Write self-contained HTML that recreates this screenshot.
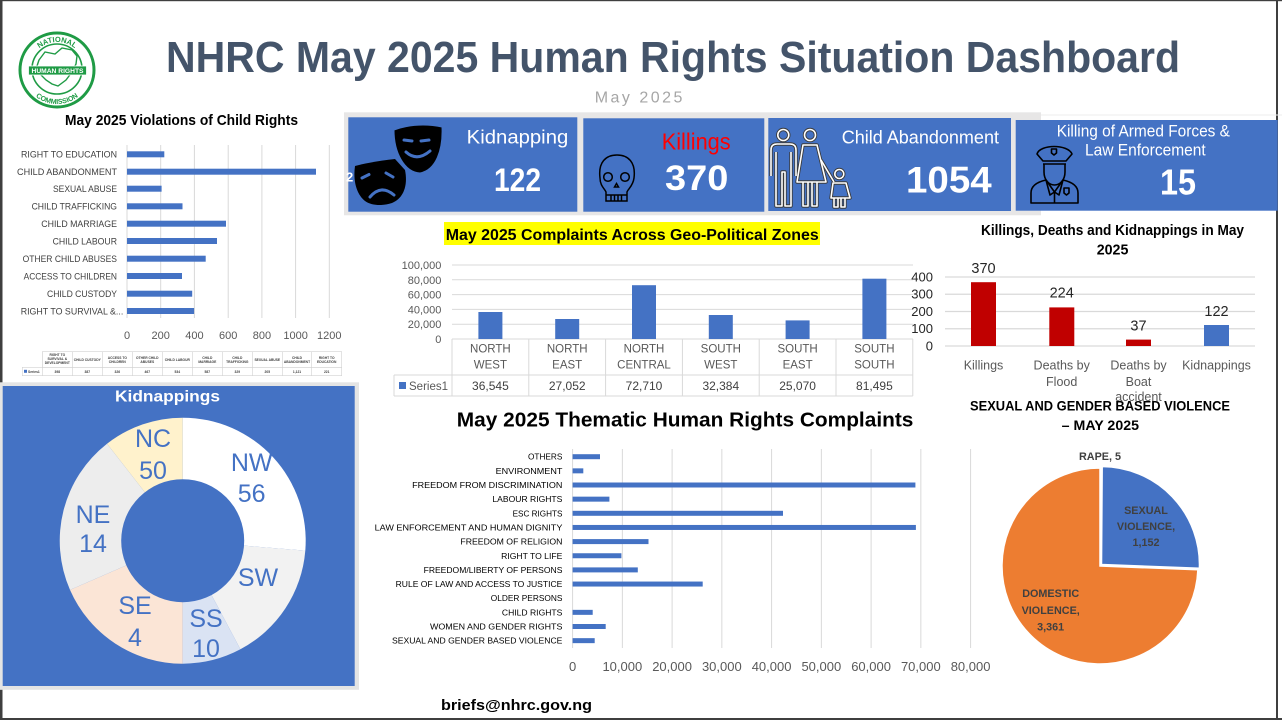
<!DOCTYPE html>
<html>
<head>
<meta charset="utf-8">
<style>
html,body{margin:0;padding:0;background:#fff;}
svg{display:block;}
text{font-family:"Liberation Sans", sans-serif;}
</style>
</head>
<body>
<svg width="1282" height="720" viewBox="0 0 1282 720" xmlns="http://www.w3.org/2000/svg">
<rect x="0" y="0" width="1282" height="720" fill="#ffffff"/>
<!-- page border -->
<rect x="0" y="0" width="2.5" height="720" fill="#3f3f3f"/>
<rect x="0" y="0" width="1282" height="1.2" fill="#3f3f3f"/>
<rect x="1276" y="0" width="2" height="720" fill="#3f3f3f"/>
<rect x="0" y="718" width="1282" height="2" fill="#3f3f3f"/>

<!-- LOGO -->
<defs>
<path id="arcTop" d="M29,70 A28,28 0 0 1 85,70"/>
<path id="arcBot" d="M23,70 A34,34 0 0 0 91,70"/>
</defs>
<circle cx="57" cy="70" r="37" fill="#ffffff" stroke="#1f9b45" stroke-width="3"/>
<circle cx="57" cy="69" r="25" fill="#ffffff" stroke="#1f9b45" stroke-width="1.6"/>
<polygon points="39,60 45,52 55,54 62,48 72,50 77,56 76,64 72,72 66,80 58,86 52,84 46,80 40,74 37,66" fill="#ffffff" stroke="#1f9b45" stroke-width="1.4"/>
<text font-size="7.5" font-weight="bold" fill="#1f9b45" text-anchor="middle"><textPath href="#arcTop" startOffset="50%">NATIONAL</textPath></text>
<text font-size="7" font-weight="bold" fill="#1f9b45" text-anchor="middle"><textPath href="#arcBot" startOffset="50%">COMMISSION</textPath></text>
<rect x="28.5" y="66" width="58" height="9" fill="#1f9b45" stroke="#ffffff" stroke-width="0.8"/>
<text x="57.5" y="73" font-size="6.5" font-weight="bold" fill="#ffffff" text-anchor="middle" textLength="52" lengthAdjust="spacingAndGlyphs">HUMAN RIGHTS</text>

<!-- TITLE -->
<text x="166" y="72" font-size="44" font-weight="bold" fill="#44546a" textLength="1014" lengthAdjust="spacingAndGlyphs">NHRC May 2025 Human Rights Situation Dashboard</text>
<text x="594.7" y="102.5" font-size="16" fill="#a6a6a6" textLength="87.7" lengthAdjust="spacing">May 2025</text>

<!-- CHILD RIGHTS CHART -->
<text x="65" y="125" font-size="15" font-weight="bold" fill="#000" textLength="233" lengthAdjust="spacingAndGlyphs">May 2025 Violations of Child Rights</text>
<g stroke="#d9d9d9" stroke-width="1">
<line x1="127" y1="145" x2="127" y2="318"/>
<line x1="160.7" y1="145" x2="160.7" y2="318"/>
<line x1="194.4" y1="145" x2="194.4" y2="318"/>
<line x1="228.2" y1="145" x2="228.2" y2="318"/>
<line x1="261.9" y1="145" x2="261.9" y2="318"/>
<line x1="295.6" y1="145" x2="295.6" y2="318"/>
<line x1="329.3" y1="145" x2="329.3" y2="318"/>
</g>
<g fill="#4472c4">
<rect x="127" y="151.3" width="37.3" height="6"/>
<rect x="127" y="168.7" width="189" height="6"/>
<rect x="127" y="185.7" width="34.6" height="6"/>
<rect x="127" y="203.3" width="55.5" height="6"/>
<rect x="127" y="220.7" width="99" height="6"/>
<rect x="127" y="238" width="90" height="6"/>
<rect x="127" y="255.7" width="78.7" height="6"/>
<rect x="127" y="273" width="55" height="6"/>
<rect x="127" y="290.7" width="65.2" height="6"/>
<rect x="127" y="308" width="67.1" height="6"/>
</g>
<g font-size="9.5" fill="#404040" text-anchor="end">
<text x="117" y="157.7" textLength="96" lengthAdjust="spacingAndGlyphs">RIGHT TO EDUCATION</text>
<text x="117" y="175.1" textLength="100" lengthAdjust="spacingAndGlyphs">CHILD ABANDONMENT</text>
<text x="117" y="192.1" textLength="64" lengthAdjust="spacingAndGlyphs">SEXUAL ABUSE</text>
<text x="117" y="209.7" textLength="85.4" lengthAdjust="spacingAndGlyphs">CHILD TRAFFICKING</text>
<text x="117" y="227.1" textLength="75.7" lengthAdjust="spacingAndGlyphs">CHILD MARRIAGE</text>
<text x="117" y="244.4" textLength="64.4" lengthAdjust="spacingAndGlyphs">CHILD LABOUR</text>
<text x="117" y="262.1" textLength="94.4" lengthAdjust="spacingAndGlyphs">OTHER CHILD ABUSES</text>
<text x="117" y="279.4" textLength="93.4" lengthAdjust="spacingAndGlyphs">ACCESS TO CHILDREN</text>
<text x="117" y="297.1" textLength="70" lengthAdjust="spacingAndGlyphs">CHILD CUSTODY</text>
<text x="123.3" y="314.4" textLength="102.6" lengthAdjust="spacingAndGlyphs">RIGHT TO SURVIVAL &amp;...</text>
</g>
<g font-size="11" fill="#595959" text-anchor="middle">
<text x="127" y="339">0</text>
<text x="160.7" y="339">200</text>
<text x="194.4" y="339">400</text>
<text x="228.2" y="339">600</text>
<text x="261.9" y="339">800</text>
<text x="295.6" y="339">1000</text>
<text x="329.3" y="339">1200</text>
</g>
<!-- tiny data table -->
<g stroke="#d0d0d0" stroke-width="0.6" fill="none">
<rect x="42.3" y="351.7" width="299.4" height="15.6"/>
<rect x="22.3" y="367.3" width="319.4" height="8.4"/>
<line x1="72.3" y1="351.7" x2="72.3" y2="375.7"/>
<line x1="102.3" y1="351.7" x2="102.3" y2="375.7"/>
<line x1="132.3" y1="351.7" x2="132.3" y2="375.7"/>
<line x1="162.3" y1="351.7" x2="162.3" y2="375.7"/>
<line x1="192.3" y1="351.7" x2="192.3" y2="375.7"/>
<line x1="222.3" y1="351.7" x2="222.3" y2="375.7"/>
<line x1="252.3" y1="351.7" x2="252.3" y2="375.7"/>
<line x1="282.3" y1="351.7" x2="282.3" y2="375.7"/>
<line x1="311.7" y1="351.7" x2="311.7" y2="375.7"/>
<line x1="42.3" y1="351.7" x2="42.3" y2="375.7"/>
</g>
<g font-size="3.3" font-weight="bold" fill="#404040" text-anchor="middle">
<text x="57.3" y="356">RIGHT TO</text><text x="57.3" y="360">SURVIVAL &amp;</text><text x="57.3" y="364">DEVELOPMENT</text>
<text x="87.3" y="361">CHILD CUSTODY</text>
<text x="117.3" y="359">ACCESS TO</text><text x="117.3" y="363">CHILDREN</text>
<text x="147.3" y="359">OTHER CHILD</text><text x="147.3" y="363">ABUSES</text>
<text x="177.3" y="361">CHILD LABOUR</text>
<text x="207.3" y="359">CHILD</text><text x="207.3" y="363">MARRIAGE</text>
<text x="237.3" y="359">CHILD</text><text x="237.3" y="363">TRAFFICKING</text>
<text x="267.3" y="361">SEXUAL ABUSE</text>
<text x="297" y="359">CHILD</text><text x="297" y="363">ABANDONMENT</text>
<text x="326.7" y="359">RIGHT TO</text><text x="326.7" y="363">EDUCATION</text>
<text x="57.3" y="372.8">398</text><text x="87.3" y="372.8">387</text><text x="117.3" y="372.8">326</text>
<text x="147.3" y="372.8">467</text><text x="177.3" y="372.8">534</text><text x="207.3" y="372.8">587</text>
<text x="237.3" y="372.8">329</text><text x="267.3" y="372.8">205</text><text x="297" y="372.8">1,121</text>
<text x="326.7" y="372.8">221</text>
</g>
<rect x="24" y="369.8" width="3" height="3" fill="#4472c4"/>
<text x="28" y="372.8" font-size="3.3" font-weight="bold" fill="#404040">Series1</text>

<!-- KIDNAPPINGS DONUT PANEL -->
<rect x="0" y="382.3" width="359" height="307.5" fill="#e4e4e4"/>
<rect x="2.7" y="386" width="352" height="300" fill="#4472c4"/>
<text x="167.5" y="401.7" font-size="15.5" font-weight="bold" fill="#ffffff" text-anchor="middle" textLength="105" lengthAdjust="spacingAndGlyphs">Kidnappings</text>
<path d="M182.7,540.7 L182.7,417.7 A123,123 0 0 1 305.3,550.6 Z" fill="#ffffff"/>
<path d="M182.7,540.7 L305.3,550.6 A123,123 0 0 1 240.4,649.3 Z" fill="#f2f2f2"/>
<path d="M182.7,540.7 L240.4,649.3 A123,123 0 0 1 182.7,663.7 Z" fill="#dae3f3"/>
<path d="M182.7,540.7 L182.7,663.7 A123,123 0 0 1 70.0,589.9 Z" fill="#fbe5d6"/>
<path d="M182.7,540.7 L70.0,589.9 A123,123 0 0 1 107.0,443.8 Z" fill="#ededed"/>
<path d="M182.7,540.7 L107.0,443.8 A123,123 0 0 1 182.7,417.7 Z" fill="#fff2cc"/>
<circle cx="182.7" cy="540.7" r="61.5" fill="#4472c4"/>
<g font-size="25" fill="#4472c4" text-anchor="middle">
<text x="153" y="447">NC</text><text x="153" y="479">50</text>
<text x="251.7" y="471">NW</text><text x="251.7" y="502">56</text>
<text x="93" y="523">NE</text><text x="93" y="552">14</text>
<text x="258" y="586">SW</text>
<text x="135" y="614">SE</text><text x="135" y="646">4</text>
<text x="206" y="627">SS</text><text x="206" y="657">10</text>
</g>

<!-- KPI CARDS -->
<rect x="344" y="112.3" width="697" height="103" fill="#e7e6e6"/>
<line x1="1041" y1="115" x2="1282" y2="115" stroke="#eeeeee" stroke-width="1"/>
<rect x="348.3" y="117.3" width="229" height="94.4" fill="#4472c4"/>
<rect x="583.3" y="118.3" width="181" height="93.4" fill="#4472c4"/>
<rect x="768.3" y="118" width="242.7" height="93" fill="#4472c4"/>
<rect x="1015.7" y="120" width="262" height="90.7" fill="#4472c4"/>

<!-- masks icon -->
<path d="M355,166 C370,162 385,160 395,159 L405,170 C408,185 404,198 392,203 C383,206 372,206 365,201 C356,194 353,180 355,166 Z" fill="#000"/>
<path d="M394,130 C410,124 428,124 442,127 C443,150 436,170 420,173 C404,172 394,152 394,130 Z" fill="#000" stroke="#4472c4" stroke-width="1"/>
<g stroke="#4472c4" stroke-width="3" stroke-linecap="round" fill="none">
<line x1="404" y1="140" x2="412" y2="141"/>
<line x1="421" y1="141" x2="429" y2="140"/>
<path d="M406,152 Q417,162 430,151"/>
<line x1="362" y1="178" x2="369" y2="174.5"/>
<line x1="386" y1="173" x2="393" y2="177"/>
<path d="M370,197 Q381,184 394,195"/>
</g>
<text x="346" y="181.5" font-size="13" font-weight="bold" fill="#ffffff">2</text>
<text x="466.7" y="143.5" font-size="19" fill="#ffffff" textLength="101.6" lengthAdjust="spacingAndGlyphs">Kidnapping</text>
<text x="494" y="191" font-size="32" font-weight="bold" fill="#ffffff" textLength="47" lengthAdjust="spacingAndGlyphs">122</text>

<!-- skull icon -->
<g stroke="#000" stroke-width="1.5" fill="none">
<path d="M600,178 C598,162 606,155 617,155 C628,155 636,162 634,178 C633,186 628,189 627,192 L627,201 L606,201 L606,192 C605,189 600,186 600,178 Z"/>
<circle cx="608" cy="177" r="4.3"/>
<circle cx="625" cy="177" r="4.3"/>
<path d="M614.5,187 L616.5,183.5 L618.5,187 Z"/>
<line x1="606" y1="195" x2="627" y2="195"/>
<line x1="611" y1="195" x2="611" y2="201"/>
<line x1="614.5" y1="195" x2="614.5" y2="201"/>
<line x1="618" y1="195" x2="618" y2="201"/>
<line x1="621.5" y1="195" x2="621.5" y2="201"/>
</g>
<text x="661.7" y="149.5" font-size="23.5" fill="#ff0000" textLength="69" lengthAdjust="spacingAndGlyphs">Killings</text>
<text x="665" y="190" font-size="35" font-weight="bold" fill="#ffffff" textLength="63.3" lengthAdjust="spacingAndGlyphs">370</text>

<!-- family icon -->
<g fill="none" stroke-linejoin="round">
<g stroke="#3a3a3a" stroke-width="3.4">
<circle cx="783.3" cy="135" r="5.5"/>
<path d="M771,176 L771,150 Q771,144 777,144 L790,144 Q796,144 796,150 L796,176"/>
<path d="M776,152 L776,206 L782,206 L782,172 L785,172 L785,206 L791,206 L791,152"/>
<circle cx="810" cy="135" r="5.5"/>
<path d="M803,145 L817,145 L826,182 L797,182 Z"/>
<path d="M803,182 L803,206 L808,206 L808,182 M812,182 L812,206 L817,206 L817,182"/>
<path d="M821,160 L834,182"/>
<circle cx="839.3" cy="174" r="4.5"/>
<path d="M833,183 L846,183 L850,198 L831,198 Z"/>
<path d="M834,198 L834,207 L838,207 L838,198 M841,198 L841,207 L845,207 L845,198"/>
</g>
<g stroke="#ffffff" stroke-width="1.6">
<circle cx="783.3" cy="135" r="5.5"/>
<path d="M771,176 L771,150 Q771,144 777,144 L790,144 Q796,144 796,150 L796,176"/>
<path d="M776,152 L776,206 L782,206 L782,172 L785,172 L785,206 L791,206 L791,152"/>
<circle cx="810" cy="135" r="5.5"/>
<path d="M803,145 L817,145 L826,182 L797,182 Z"/>
<path d="M803,182 L803,206 L808,206 L808,182 M812,182 L812,206 L817,206 L817,182"/>
<path d="M821,160 L834,182"/>
<circle cx="839.3" cy="174" r="4.5"/>
<path d="M833,183 L846,183 L850,198 L831,198 Z"/>
<path d="M834,198 L834,207 L838,207 L838,198 M841,198 L841,207 L845,207 L845,198"/>
</g>
</g>
<text x="841.7" y="143.3" font-size="18.6" fill="#ffffff" textLength="157.3" lengthAdjust="spacingAndGlyphs">Child Abandonment</text>
<text x="906" y="192.3" font-size="37" font-weight="bold" fill="#ffffff" textLength="85.7" lengthAdjust="spacingAndGlyphs">1054</text>

<!-- police icon -->
<g stroke="#000" stroke-width="1.6" fill="none" stroke-linejoin="round">
<path d="M1037,154 C1040,144 1068,144 1072,154 L1066,161 L1043,161 Z"/>
<line x1="1043" y1="164" x2="1066" y2="164"/>
<path d="M1051.5,149 L1056.5,149 L1056.5,153 L1054,155 L1051.5,153 Z"/>
<path d="M1044,164 L1044,172 C1044,180 1049,185 1054.5,185 C1060,185 1065,180 1065,172 L1065,164"/>
<path d="M1031,203 L1031,193 C1031,186 1037,182 1046,180 L1054.5,192 L1063,180 C1072,182 1078,186 1078,193 L1078,203 Z"/>
<path d="M1046,180 L1050,195 L1054.5,192 L1059,195 L1063,180"/>
<line x1="1054.5" y1="192" x2="1054.5" y2="203"/>
<path d="M1064,188 L1069,188 L1069,193 L1066.5,195 L1064,193 Z"/>
</g>
<text x="1056.7" y="136.7" font-size="16.3" fill="#ffffff" textLength="173.3" lengthAdjust="spacingAndGlyphs">Killing of Armed Forces &amp;</text>
<text x="1085" y="155.7" font-size="16.3" fill="#ffffff" textLength="120.7" lengthAdjust="spacingAndGlyphs">Law Enforcement</text>
<text x="1160" y="194.3" font-size="36" font-weight="bold" fill="#ffffff" textLength="36" lengthAdjust="spacingAndGlyphs">15</text>

<!-- GEO-POLITICAL CHART -->
<rect x="444" y="222" width="376" height="23" fill="#ffff00"/>
<text x="445.7" y="240" font-size="16" font-weight="bold" fill="#000" textLength="373" lengthAdjust="spacingAndGlyphs">May 2025 Complaints Across Geo-Political Zones</text>
<g stroke="#d9d9d9" stroke-width="1">
<line x1="452" y1="265" x2="913" y2="265"/>
<line x1="452" y1="279.8" x2="913" y2="279.8"/>
<line x1="452" y1="294.6" x2="913" y2="294.6"/>
<line x1="452" y1="309.4" x2="913" y2="309.4"/>
<line x1="452" y1="324.2" x2="913" y2="324.2"/>
<line x1="452" y1="339" x2="913" y2="339"/>
</g>
<g fill="#4472c4">
<rect x="478.4" y="312" width="24" height="27"/>
<rect x="555.2" y="319" width="24" height="20"/>
<rect x="632" y="285.2" width="24" height="53.8"/>
<rect x="708.8" y="315" width="24" height="24"/>
<rect x="785.6" y="320.4" width="24" height="18.6"/>
<rect x="862.4" y="278.7" width="24" height="60.3"/>
</g>
<g font-size="11" fill="#595959" text-anchor="end">
<text x="441.4" y="269">100,000</text>
<text x="441.4" y="283.8">80,000</text>
<text x="441.4" y="298.6">60,000</text>
<text x="441.4" y="313.4">40,000</text>
<text x="441.4" y="328.2">20,000</text>
<text x="441.4" y="343">0</text>
</g>
<g stroke="#d9d9d9" stroke-width="1" fill="none">
<line x1="452" y1="339" x2="452" y2="396"/>
<line x1="528.8" y1="339" x2="528.8" y2="396"/>
<line x1="605.6" y1="339" x2="605.6" y2="396"/>
<line x1="682.4" y1="339" x2="682.4" y2="396"/>
<line x1="759.2" y1="339" x2="759.2" y2="396"/>
<line x1="836" y1="339" x2="836" y2="396"/>
<line x1="912.8" y1="339" x2="912.8" y2="396"/>
<line x1="394" y1="375" x2="912.8" y2="375"/>
<line x1="394" y1="396" x2="912.8" y2="396"/>
<line x1="394" y1="375" x2="394" y2="396"/>
</g>
<g font-size="11.5" fill="#595959" text-anchor="middle">
<text x="490.4" y="352.5">NORTH</text><text x="490.4" y="368.5">WEST</text>
<text x="567.2" y="352.5">NORTH</text><text x="567.2" y="368.5">EAST</text>
<text x="644" y="352.5">NORTH</text><text x="644" y="368.5">CENTRAL</text>
<text x="720.8" y="352.5">SOUTH</text><text x="720.8" y="368.5">WEST</text>
<text x="797.6" y="352.5">SOUTH</text><text x="797.6" y="368.5">EAST</text>
<text x="874.4" y="352.5">SOUTH</text><text x="874.4" y="368.5">SOUTH</text>
</g>
<g font-size="12" fill="#404040" text-anchor="middle">
<text x="490.4" y="390">36,545</text>
<text x="567.2" y="390">27,052</text>
<text x="644" y="390">72,710</text>
<text x="720.8" y="390">32,384</text>
<text x="797.6" y="390">25,070</text>
<text x="874.4" y="390">81,495</text>
</g>
<rect x="399" y="382" width="7" height="7" fill="#4472c4"/>
<text x="409" y="390" font-size="11.5" fill="#595959">Series1</text>

<!-- KILLINGS CHART -->
<text x="981" y="235" font-size="14.5" font-weight="bold" fill="#000" textLength="263" lengthAdjust="spacingAndGlyphs">Killings, Deaths and Kidnappings in May</text>
<text x="1096.7" y="254.3" font-size="14.5" font-weight="bold" fill="#000" textLength="31.7" lengthAdjust="spacingAndGlyphs">2025</text>
<g stroke="#d9d9d9" stroke-width="1.2">
<line x1="945" y1="277" x2="1255" y2="277"/>
<line x1="945" y1="294.25" x2="1255" y2="294.25"/>
<line x1="945" y1="311.5" x2="1255" y2="311.5"/>
<line x1="945" y1="328.75" x2="1255" y2="328.75"/>
<line x1="945" y1="346" x2="1255" y2="346"/>
</g>
<g font-size="13" fill="#262626" text-anchor="end">
<text x="933" y="281.5">400</text>
<text x="933" y="298.7">300</text>
<text x="933" y="316">200</text>
<text x="933" y="333.2">100</text>
<text x="933" y="350.5">0</text>
</g>
<rect x="971" y="282.2" width="25" height="63.8" fill="#c00000"/>
<rect x="1049.3" y="307.4" width="25" height="38.6" fill="#c00000"/>
<rect x="1126" y="339.6" width="25" height="6.4" fill="#c00000"/>
<rect x="1204" y="325" width="25" height="21" fill="#4472c4"/>
<g font-size="14.5" fill="#262626" text-anchor="middle">
<text x="983.5" y="273">370</text>
<text x="1061.7" y="297.3">224</text>
<text x="1138.5" y="330.3">37</text>
<text x="1216.5" y="316">122</text>
</g>
<g font-size="12.5" fill="#595959" text-anchor="middle">
<text x="983.5" y="369.5">Killings</text>
<text x="1061.7" y="369.5">Deaths by</text>
<text x="1061.7" y="386">Flood</text>
<text x="1138.5" y="369.5">Deaths by</text>
<text x="1138.5" y="386">Boat</text>
<text x="1138.5" y="401">accident</text>
<text x="1216.5" y="369.5">Kidnappings</text>
</g>

<!-- THEMATIC CHART -->
<text x="456.8" y="426.7" font-size="20.5" font-weight="bold" fill="#000" textLength="456.6" lengthAdjust="spacingAndGlyphs">May 2025 Thematic Human Rights Complaints</text>
<g stroke="#d9d9d9" stroke-width="1">
<line x1="572.6" y1="449" x2="572.6" y2="648"/>
<line x1="622.35" y1="449" x2="622.35" y2="648"/>
<line x1="672.1" y1="449" x2="672.1" y2="648"/>
<line x1="721.85" y1="449" x2="721.85" y2="648"/>
<line x1="771.6" y1="449" x2="771.6" y2="648"/>
<line x1="821.35" y1="449" x2="821.35" y2="648"/>
<line x1="871.1" y1="449" x2="871.1" y2="648"/>
<line x1="920.85" y1="449" x2="920.85" y2="648"/>
<line x1="970.6" y1="449" x2="970.6" y2="648"/>
</g>
<g fill="#4472c4">
<rect x="572.6" y="454.2" width="27.4" height="5"/>
<rect x="572.6" y="468.35" width="10.7" height="5"/>
<rect x="572.6" y="482.5" width="342.8" height="5"/>
<rect x="572.6" y="496.65" width="36.8" height="5"/>
<rect x="572.6" y="510.8" width="210.4" height="5"/>
<rect x="572.6" y="524.95" width="343.3" height="5"/>
<rect x="572.6" y="539.1" width="75.9" height="5"/>
<rect x="572.6" y="553.25" width="48.8" height="5"/>
<rect x="572.6" y="567.4" width="65.2" height="5"/>
<rect x="572.6" y="581.55" width="130.1" height="5"/>
<rect x="572.6" y="609.85" width="20.1" height="5"/>
<rect x="572.6" y="624" width="33.1" height="5"/>
<rect x="572.6" y="638.15" width="22.1" height="5"/>
</g>
<g font-size="8.5" fill="#000" text-anchor="end">
<text x="562.4" y="459.7" textLength="34.4" lengthAdjust="spacingAndGlyphs">OTHERS</text>
<text x="562.4" y="473.85" textLength="66.8" lengthAdjust="spacingAndGlyphs">ENVIRONMENT</text>
<text x="562.4" y="488" textLength="150.2" lengthAdjust="spacingAndGlyphs">FREEDOM FROM DISCRIMINATION</text>
<text x="562.4" y="502.15" textLength="70" lengthAdjust="spacingAndGlyphs">LABOUR RIGHTS</text>
<text x="562.4" y="516.3" textLength="49.8" lengthAdjust="spacingAndGlyphs">ESC RIGHTS</text>
<text x="562.4" y="530.45" textLength="187.8" lengthAdjust="spacingAndGlyphs">LAW ENFORCEMENT AND HUMAN DIGNITY</text>
<text x="562.4" y="544.6" textLength="102" lengthAdjust="spacingAndGlyphs">FREEDOM OF RELIGION</text>
<text x="562.4" y="558.75" textLength="61.3" lengthAdjust="spacingAndGlyphs">RIGHT TO LIFE</text>
<text x="562.4" y="572.9" textLength="138.8" lengthAdjust="spacingAndGlyphs">FREEDOM/LIBERTY OF PERSONS</text>
<text x="562.4" y="587.05" textLength="166.8" lengthAdjust="spacingAndGlyphs">RULE OF LAW AND ACCESS TO JUSTICE</text>
<text x="562.4" y="601.2" textLength="71.6" lengthAdjust="spacingAndGlyphs">OLDER PERSONS</text>
<text x="562.4" y="615.35" textLength="60.5" lengthAdjust="spacingAndGlyphs">CHILD RIGHTS</text>
<text x="562.4" y="629.5" textLength="132.4" lengthAdjust="spacingAndGlyphs">WOMEN AND GENDER RIGHTS</text>
<text x="562.4" y="643.65" textLength="170.4" lengthAdjust="spacingAndGlyphs">SEXUAL AND GENDER BASED VIOLENCE</text>
</g>
<g font-size="13" fill="#595959" text-anchor="middle">
<text x="572.6" y="671">0</text>
<text x="622.35" y="671">10,000</text>
<text x="672.1" y="671">20,000</text>
<text x="721.85" y="671">30,000</text>
<text x="771.6" y="671">40,000</text>
<text x="821.35" y="671">50,000</text>
<text x="871.1" y="671">60,000</text>
<text x="920.85" y="671">70,000</text>
<text x="970.6" y="671">80,000</text>
</g>

<!-- SGBV PIE -->
<text x="970" y="410.5" font-size="13.5" font-weight="bold" fill="#000" textLength="260" lengthAdjust="spacingAndGlyphs">SEXUAL AND GENDER BASED VIOLENCE</text>
<text x="1061.7" y="430" font-size="13.5" font-weight="bold" fill="#000" textLength="77.3" lengthAdjust="spacingAndGlyphs">– MAY 2025</text>
<path d="M1100,566 L1197.9,569.8 A98,98 0 1 1 1100,468 Z" fill="#ed7d31" stroke="#ffffff" stroke-width="1.5"/>
<path d="M1101.5,564.5 L1102.2,466.5 A98,98 0 0 1 1199.4,568.3 Z" fill="#4472c4" stroke="#ffffff" stroke-width="1.5"/>
<g font-size="10.8" font-weight="bold" fill="#404040" text-anchor="middle">
<text x="1100" y="460">RAPE, 5</text>
<text x="1146" y="514">SEXUAL</text>
<text x="1146" y="530">VIOLENCE,</text>
<text x="1146" y="546">1,152</text>
<text x="1050.7" y="597">DOMESTIC</text>
<text x="1050.7" y="614">VIOLENCE,</text>
<text x="1050.7" y="630.5">3,361</text>
</g>

<!-- FOOTER -->
<text x="441" y="710" font-size="15" font-weight="bold" fill="#000" textLength="151" lengthAdjust="spacingAndGlyphs">briefs@nhrc.gov.ng</text>
</svg>
</body>
</html>
